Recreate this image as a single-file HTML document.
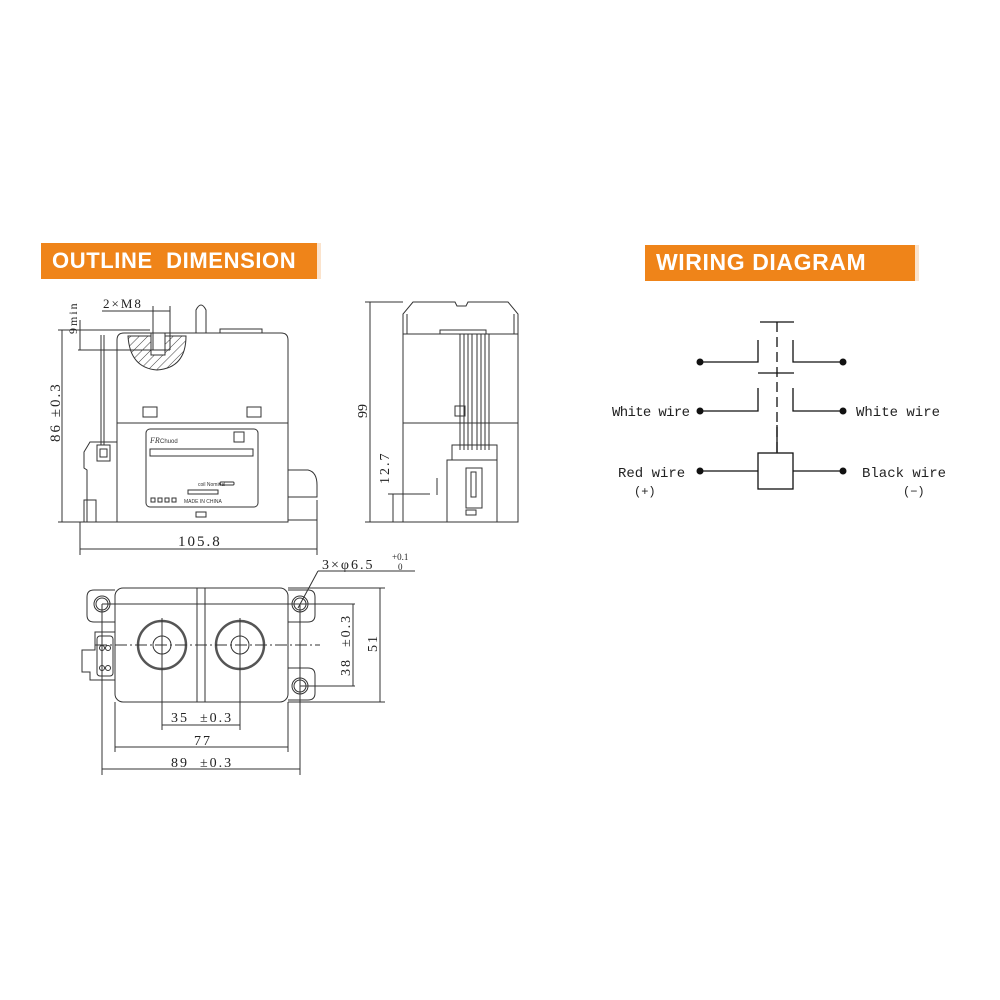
<!DOCTYPE html>
<html><head><meta charset="utf-8"><style>
html,body{margin:0;padding:0;background:#fff;width:1000px;height:1000px;overflow:hidden}
.ban{position:absolute;background:#ef8419;color:#fff;font-family:"Liberation Sans",sans-serif;font-weight:bold;font-size:22px;line-height:35px;padding-left:11px;box-sizing:border-box}
.d{letter-spacing:2px}
</style></head><body>
<div class="ban" style="left:41px;top:243px;width:280px;height:36px;letter-spacing:0.6px;border-right:4px solid #fbe3cc">OUTLINE&nbsp; DIMENSION</div>
<div class="ban" style="left:645px;top:245px;width:274px;height:36px;font-size:23px;letter-spacing:0.6px;border-right:4px solid #fbe3cc">WIRING DIAGRAM</div>
<svg width="1000" height="1000" style="position:absolute;left:0;top:0" font-family="Liberation Serif,serif" fill="none" stroke="#333" stroke-width="1">
<defs><pattern id="h" width="6" height="6" patternUnits="userSpaceOnUse" patternTransform="rotate(45)"><line x1="0" y1="0" x2="0" y2="6" stroke="#444" stroke-width="1"/></pattern></defs>
<!-- FRONT VIEW -->
<path d="M117,522 V340 Q117,333 124,333 H281 Q288,333 288,340 V522 Z"/>
<line x1="117" y1="423" x2="288" y2="423"/>
<path d="M128,336 H186 Q186,368 157,370 Q130,368 128,336 Z" fill="url(#h)"/>
<rect x="151" y="333" width="14" height="22" fill="#fff"/>
<path d="M196,333 V310 Q201,300 206,310 V333"/>
<rect x="220" y="329" width="42" height="4"/>
<rect x="143" y="407" width="14" height="10"/><rect x="247" y="407" width="14" height="10"/>
<rect x="146" y="429" width="112" height="78" rx="4"/>
<rect x="150" y="449" width="103" height="7"/>
<rect x="234" y="432" width="10" height="10"/>
<rect x="220" y="482" width="14" height="3" rx="1"/>
<rect x="188" y="490" width="30" height="4"/>
<text x="160" y="443" font-family="Liberation Sans,sans-serif" font-size="6" fill="#333" stroke="none">Chuod</text>
<text x="150" y="443" font-size="8" fill="#333" stroke="none" font-style="italic">FR</text>
<text x="198" y="486" font-family="Liberation Sans,sans-serif" font-size="5" fill="#333" stroke="none">coil Nominal</text>
<text x="184" y="503" font-family="Liberation Sans,sans-serif" font-size="5" fill="#333" stroke="none">MADE IN CHINA</text>
<rect x="151" y="498" width="4" height="4"/><rect x="158" y="498" width="4" height="4"/><rect x="165" y="498" width="4" height="4"/><rect x="172" y="498" width="4" height="4"/>
<rect x="196" y="512" width="10" height="5"/>
<path d="M288,470 H308 Q317,472 317,485 V497 H288"/>
<line x1="288" y1="520" x2="317" y2="520"/>
<line x1="101" y1="335" x2="101" y2="445"/><line x1="104" y1="335" x2="104" y2="445"/>
<path d="M117,442 H90 L84,452 V468 L87,470 V522 H117"/>
<rect x="97" y="445" width="13" height="16"/><rect x="100" y="449" width="7" height="8"/>
<rect x="84" y="500" width="12" height="22"/>
<line x1="80" y1="522" x2="117" y2="522"/>
<!-- dims front -->
<line x1="58" y1="330" x2="150" y2="330"/>
<line x1="62" y1="330" x2="62" y2="522"/>
<line x1="58" y1="522" x2="84" y2="522"/>
<line x1="80" y1="320" x2="80" y2="350"/><line x1="78" y1="350" x2="170" y2="350"/>
<line x1="102" y1="311" x2="170" y2="311"/><line x1="153" y1="306" x2="153" y2="350"/><line x1="170" y1="306" x2="170" y2="350"/>
<text x="103" y="308" font-size="13" fill="#222" stroke="none" class="d">2×M8</text>
<text transform="translate(77,334) rotate(-90)" font-size="12" fill="#222" stroke="none" class="d">9min</text>
<text transform="translate(60,442) rotate(-90)" font-size="15" fill="#222" stroke="none" class="d" xml:space="preserve">86 ±0.3</text>
<line x1="80" y1="522" x2="80" y2="555"/><line x1="317" y1="500" x2="317" y2="555"/>
<line x1="80" y1="549" x2="317" y2="549"/>
<text x="178" y="546" font-size="15" fill="#222" stroke="none" class="d">105.8</text>
<!-- SIDE VIEW -->
<path d="M403,522 V314 L413,302 H455 L457,306 H466 L468,302 H508 L518,314 V522 Z"/>
<line x1="403" y1="334" x2="518" y2="334"/><line x1="403" y1="423" x2="518" y2="423"/>
<line x1="407" y1="314" x2="407" y2="334"/><line x1="514" y1="314" x2="514" y2="334"/>
<rect x="440" y="330" width="46" height="4"/>
<g><line x1="460" y1="334" x2="460" y2="450"/><line x1="464" y1="334" x2="464" y2="450"/><line x1="468" y1="334" x2="468" y2="450"/><line x1="472" y1="334" x2="472" y2="450"/><line x1="477" y1="334" x2="477" y2="450"/><line x1="481" y1="334" x2="481" y2="450"/><line x1="485" y1="334" x2="485" y2="450"/><line x1="489" y1="334" x2="489" y2="450"/></g>
<rect x="455" y="406" width="10" height="10"/>
<rect x="452" y="445" width="45" height="15"/>
<rect x="447" y="460" width="50" height="62"/>
<rect x="466" y="468" width="16" height="40"/><rect x="471" y="472" width="5" height="25"/>
<rect x="466" y="510" width="10" height="5"/>
<line x1="437" y1="478" x2="437" y2="495"/>
<line x1="365" y1="302" x2="403" y2="302"/><line x1="370" y1="302" x2="370" y2="522"/><line x1="365" y1="522" x2="403" y2="522"/>
<line x1="388" y1="494" x2="430" y2="494"/><line x1="393" y1="494" x2="393" y2="522"/>
<text transform="translate(367,418) rotate(-90)" font-size="14" fill="#222" stroke="none">99</text>
<text transform="translate(389,484) rotate(-90)" font-size="14" fill="#222" stroke="none" class="d">12.7</text>
<!-- BOTTOM VIEW -->
<rect x="115" y="588" width="173" height="114" rx="8"/>
<path d="M115,590 H94 Q87,590 87,597 V615 Q87,622 94,622 H115"/>
<circle cx="102" cy="604" r="8"/><circle cx="102" cy="604" r="6"/>
<path d="M288,590 H308 Q315,590 315,597 V615 Q315,622 308,622 H288"/>
<circle cx="300" cy="604" r="8"/><circle cx="300" cy="604" r="6"/>
<path d="M288,668 H308 Q315,668 315,675 V693 Q315,700 308,700 H288"/>
<circle cx="300" cy="686" r="8"/><circle cx="300" cy="686" r="6"/>
<path d="M115,632 H95 V650 H82 V672 H90 V680 H115"/>
<rect x="97" y="636" width="16" height="40" rx="3"/>
<circle cx="102" cy="648" r="2.5"/><circle cx="108" cy="648" r="2.5"/><circle cx="102" cy="668" r="2.5"/><circle cx="108" cy="668" r="2.5"/>
<line x1="197" y1="588" x2="197" y2="702"/><line x1="205" y1="588" x2="205" y2="702"/>
<circle cx="162" cy="645" r="24" stroke="#555" stroke-width="2.5"/><circle cx="162" cy="645" r="9"/>
<circle cx="240" cy="645" r="24" stroke="#555" stroke-width="2.5"/><circle cx="240" cy="645" r="9"/>
<line x1="95" y1="645" x2="320" y2="645" stroke-dasharray="12,3,2,3"/>
<line x1="162" y1="618" x2="162" y2="730"/><line x1="240" y1="618" x2="240" y2="730"/>
<line x1="102" y1="604" x2="355" y2="604"/><line x1="300" y1="686" x2="355" y2="686"/>
<line x1="102" y1="604" x2="102" y2="775"/><line x1="300" y1="604" x2="300" y2="775"/>
<line x1="115" y1="702" x2="115" y2="752"/><line x1="288" y1="702" x2="288" y2="752"/>
<line x1="162" y1="725" x2="240" y2="725"/>
<line x1="115" y1="747" x2="288" y2="747"/>
<line x1="102" y1="769" x2="300" y2="769"/>
<line x1="353" y1="604" x2="353" y2="686"/>
<line x1="288" y1="588" x2="385" y2="588"/><line x1="288" y1="702" x2="385" y2="702"/>
<line x1="380" y1="588" x2="380" y2="702"/>
<line x1="415" y1="571" x2="318" y2="571"/><line x1="318" y1="571" x2="298" y2="608"/>
<text x="171" y="722" font-size="14" fill="#222" stroke="none" class="d" xml:space="preserve">35  ±0.3</text>
<text x="194" y="745" font-size="14" fill="#222" stroke="none" class="d">77</text>
<text x="171" y="767" font-size="14" fill="#222" stroke="none" class="d" xml:space="preserve">89  ±0.3</text>
<text transform="translate(350,676) rotate(-90)" font-size="14" fill="#222" stroke="none" class="d" xml:space="preserve">38  ±0.3</text>
<text transform="translate(377,652) rotate(-90)" font-size="14" fill="#222" stroke="none" class="d">51</text>
<text x="322" y="569" font-size="14" fill="#222" stroke="none" class="d">3×φ6.5</text>
<text x="392" y="560" font-size="9" fill="#222" stroke="none">+0.1</text>
<text x="398" y="570" font-size="9" fill="#222" stroke="none">0</text>
<!-- WIRING -->
<g stroke="#111" stroke-width="1.3">
<line x1="760" y1="322" x2="794" y2="322"/>
<line x1="777" y1="322" x2="777" y2="453" stroke-dasharray="10,5"/>
<line x1="777" y1="425" x2="777" y2="453"/>
<path d="M758,340 V362 H700"/><path d="M793,340 V362 H843"/>
<line x1="758" y1="373" x2="794" y2="373"/>
<path d="M758,388 V411 H700"/><path d="M793,388 V411 H843"/>
<rect x="758" y="453" width="35" height="36"/>
<line x1="700" y1="471" x2="758" y2="471"/><line x1="793" y1="471" x2="843" y2="471"/>
</g>
<g fill="#111" stroke="none">
<circle cx="700" cy="362" r="3.5"/><circle cx="843" cy="362" r="3.5"/>
<circle cx="700" cy="411" r="3.5"/><circle cx="843" cy="411" r="3.5"/>
<circle cx="700" cy="471" r="3.5"/><circle cx="843" cy="471" r="3.5"/>
</g>
<g font-family="Liberation Mono,monospace" font-size="14" fill="#222" stroke="none">
<text x="612" y="416" textLength="78">White wire</text>
<text x="856" y="416" textLength="84">White wire</text>
<text x="618" y="477">Red wire</text>
<text x="634" y="495" font-size="12">(+)</text>
<text x="862" y="477">Black wire</text>
<text x="903" y="495" font-size="12">(−)</text>
</g>
</svg>
</body></html>
